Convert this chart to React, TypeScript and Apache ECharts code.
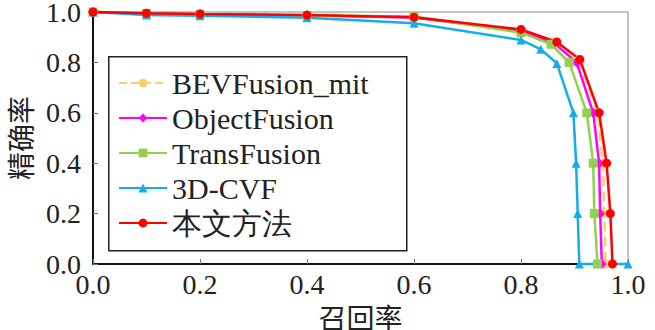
import React, { useEffect, useRef } from "react";
import * as echarts from "echarts";

const seriesNames = ["BEVFusion_mit", "ObjectFusion", "TransFusion", "3D-CVF", "本文方法"];

const bevRecall = [0, 0.1, 0.2, 0.4, 0.6, 0.8, 0.866, 0.908, 0.943, 0.953, 0.956, 0.958];
const bevPrecision = [1.0, 0.995, 0.992, 0.988, 0.98, 0.93, 0.88, 0.81, 0.6, 0.4, 0.2, 0];

const objRecall = [0, 0.1, 0.2, 0.4, 0.6, 0.8, 0.862, 0.904, 0.935, 0.946, 0.948, 0.951];
const objPrecision = [1.0, 0.994, 0.991, 0.986, 0.978, 0.925, 0.876, 0.8, 0.6, 0.4, 0.2, 0];

const transRecall = [0, 0.1, 0.2, 0.4, 0.6, 0.8, 0.856, 0.89, 0.923, 0.935, 0.937, 0.943];
const transPrecision = [1.0, 0.994, 0.991, 0.986, 0.982, 0.918, 0.872, 0.8, 0.6, 0.4, 0.2, 0];

const cvfRecall = [0, 0.1, 0.2, 0.4, 0.6, 0.8, 0.837, 0.867, 0.898, 0.903, 0.906, 0.909, 1.0];
const cvfPrecision = [1.0, 0.988, 0.985, 0.977, 0.955, 0.889, 0.852, 0.796, 0.6, 0.4, 0.2, 0, 0];

const oursRecall = [0, 0.1, 0.2, 0.4, 0.6, 0.8, 0.867, 0.91, 0.946, 0.96, 0.967, 0.971];
const oursPrecision = [1.0, 0.995, 0.992, 0.988, 0.979, 0.931, 0.881, 0.812, 0.6, 0.4, 0.2, 0];

const recalls = [bevRecall, objRecall, transRecall, cvfRecall, oursRecall];
const precisions = [bevPrecision, objPrecision, transPrecision, cvfPrecision, oursPrecision];
const colors = ["#F9CF6A", "#FF00FF", "#92D050", "#13AEE6", "#FF0000"];
const symbols = ["circle", "diamond", "rect", "triangle", "circle"];
const lineTypes = ["dashed", "solid", "solid", "solid", "solid"];

const FONT = "Liberation Serif";
const CJK = "Noto Sans CJK SC";

export default function App() {
  const ref = useRef<HTMLDivElement>(null);
  useEffect(() => {
    if (!ref.current) return;
    const chart = echarts.init(ref.current, undefined, { renderer: "svg" });
    const series = seriesNames.map((name, i) => ({
      name,
      type: "line",
      data: recalls[i].map((r, j) => [r, precisions[i][j]]),
      symbol: symbols[i],
      symbolSize: i === 1 ? 10 : 9,
      clip: false,
      color: colors[i],
      lineStyle: { color: colors[i], width: 2.5, type: lineTypes[i] },
      itemStyle: { color: colors[i] },
    }));
    chart.setOption({
      animation: false,
      backgroundColor: "#fff",
      grid: {
        left: 93,
        right: 27,
        top: 12,
        bottom: 66,
        show: true,
        borderColor: "#888",
        borderWidth: 1,
        outerBoundsMode: "none",
      },
      graphic: [
        {
          type: "rect",
          left: 108,
          top: 56,
          z: 90,
          shape: { width: 298, height: 194 },
          style: { fill: "#fff", stroke: "#222", lineWidth: 1.5 },
        },
      ],
      legend: {
        orient: "vertical",
        left: 108,
        top: 56,
        z: 100,
        padding: [12, 12, 12, 10],
        itemGap: 5,
        itemWidth: 48,
        itemHeight: 11,
        borderWidth: 0,
        textStyle: { fontFamily: FONT, fontSize: 30, color: "#222" },
        data: seriesNames,
      },
      xAxis: {
        type: "value",
        min: 0,
        max: 1,
        interval: 0.2,
        name: "召回率",
        nameLocation: "middle",
        nameGap: 24,
        nameTextStyle: { fontFamily: CJK, fontSize: 28, color: "#222", lineHeight: 28 },
        axisLine: { show: true, lineStyle: { color: "#111", width: 2 } },
        axisTick: { show: true, inside: true, length: 5, lineStyle: { color: "#777" } },
        axisLabel: {
          fontFamily: FONT,
          fontSize: 28,
          lineHeight: 26,
          color: "#222",
          margin: 7,
          formatter: (v: number) => v.toFixed(1),
        },
        splitLine: { show: false },
      },
      yAxis: {
        type: "value",
        min: 0,
        max: 1,
        interval: 0.2,
        name: "精确率",
        nameLocation: "middle",
        nameGap: 58,
        nameTextStyle: { fontFamily: CJK, fontSize: 28, color: "#222", lineHeight: 30 },
        axisLine: { show: true, lineStyle: { color: "#111", width: 2 } },
        axisTick: { show: true, inside: true, length: 5, lineStyle: { color: "#777" } },
        axisLabel: {
          fontFamily: FONT,
          fontSize: 28,
          lineHeight: 22,
          color: "#222",
          margin: 12,
          formatter: (v: number) => v.toFixed(1),
        },
        splitLine: { show: false },
      },
      series,
    });
    return () => chart.dispose();
  }, []);
  return (
    <div
      ref={ref}
      style={{ position: "fixed", left: 0, top: 0, width: 655, height: 330, background: "#fff" }}
    />
  );
}
